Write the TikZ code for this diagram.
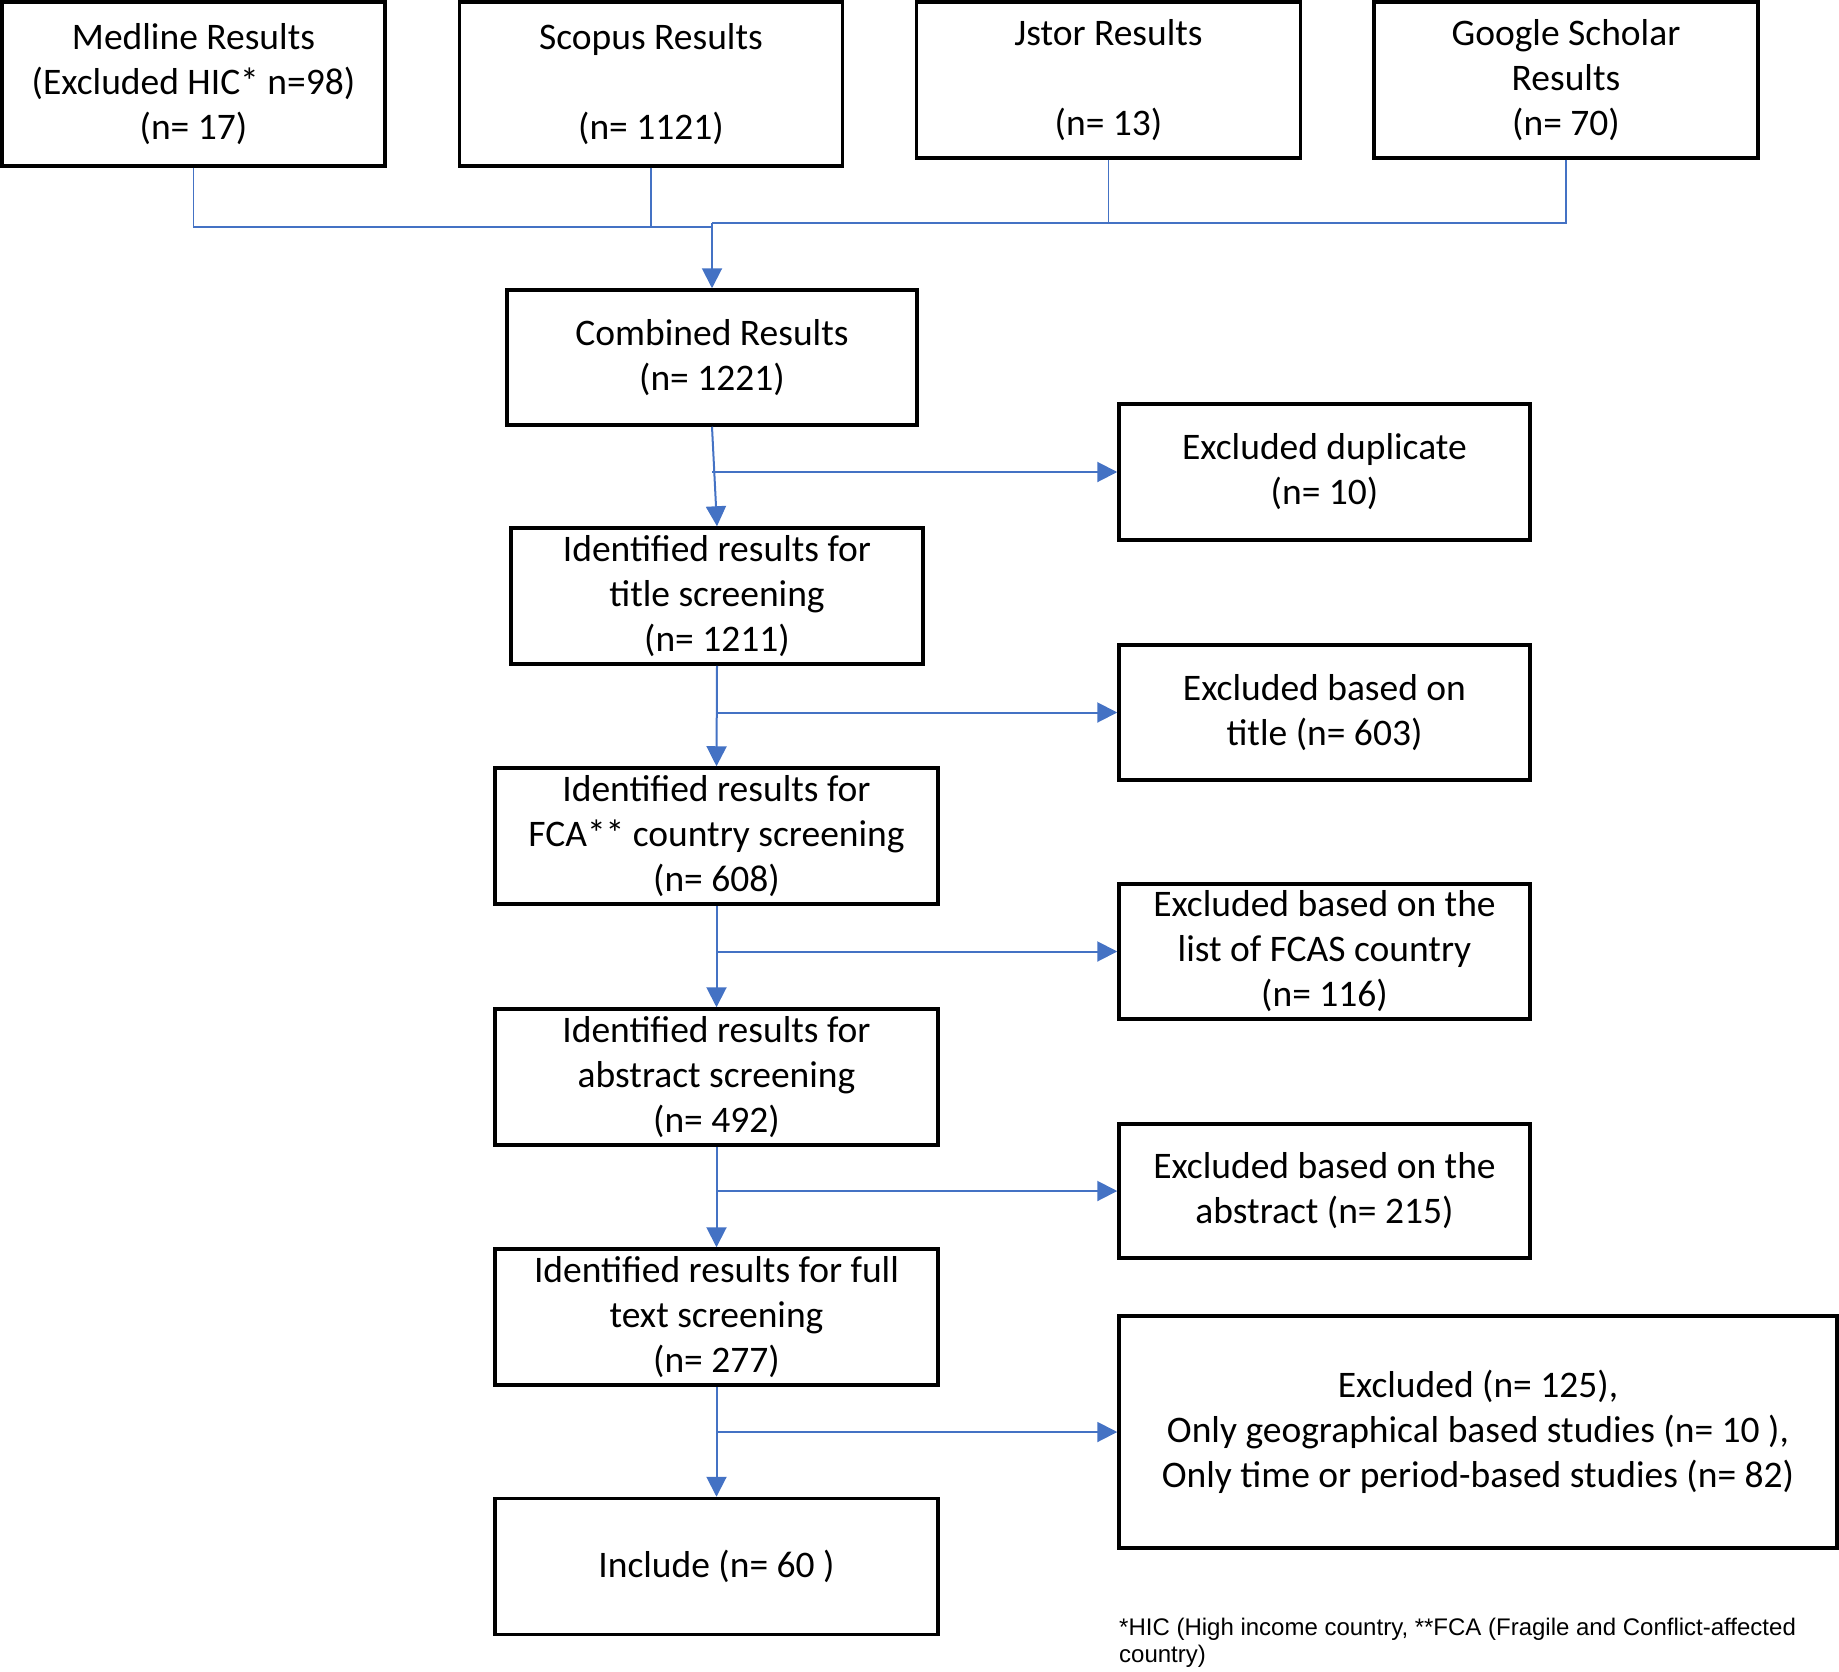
\documentclass[tikz,border=0pt]{standalone}
\usepackage{fontspec}
\setmainfont{Carlito}
\newfontfamily\notefont{Liberation Sans}
\usetikzlibrary{arrows.meta}
\definecolor{flowblue}{HTML}{4472C4}
\begin{document}
\begin{tikzpicture}[x=1pt,y=-1pt,
  box/.style={draw=black,line width=3.5pt,align=center,inner sep=0pt,
    font=\fontsize{37.5}{45}\selectfont},
  link/.style={draw=flowblue,line width=1.5pt},
  arr/.style={draw=flowblue,line width=2pt,-{Triangle[length=20pt,width=20pt]}}]
\useasboundingbox (0,0) rectangle (1839,1672);
% top sources
\node[box,minimum width=383pt,minimum height=164pt] (med) at (193.5,84) {Medline Results\\(Excluded HIC* n=98)\\(n= 17)};
\node[box,minimum width=383pt,minimum height=164pt] (sco) at (651,84) {Scopus Results\\\mbox{}\\(n= 1121)};
\node[box,minimum width=384pt,minimum height=156pt] (jst) at (1108.5,80) {Jstor Results\\\mbox{}\\(n= 13)};
\node[box,minimum width=384pt,minimum height=156pt] (goo) at (1566,80) {Google Scholar\\Results\\(n= 70)};
% main column
\node[box,minimum width=410pt,minimum height=135pt] (comb) at (712,357.5) {Combined Results\\(n= 1221)};
\node[box,minimum width=412pt,minimum height=136pt] (title) at (717,596) {Identified results for\\title screening\\(n= 1211)};
\node[box,minimum width=443pt,minimum height=136pt] (fca) at (716.5,836) {Identified results for\\FCA** country screening\\(n= 608)};
\node[box,minimum width=443pt,minimum height=136pt] (abs) at (716.5,1077) {Identified results for\\abstract screening\\(n= 492)};
\node[box,minimum width=443pt,minimum height=136pt] (full) at (716.5,1317) {Identified results for full\\text screening\\(n= 277)};
\node[box,minimum width=443pt,minimum height=136pt] (inc) at (716.5,1566.5) {Include (n= 60 )};
% exclusions
\node[box,minimum width=411pt,minimum height=136pt] (exdup) at (1324.5,472) {Excluded duplicate\\(n= 10)};
\node[box,minimum width=411pt,minimum height=135pt] (extit) at (1324.5,712.5) {Excluded based on\\title (n= 603)};
\node[box,minimum width=411pt,minimum height=135pt] (exfca) at (1324.5,951.5) {Excluded based on the\\list of FCAS country\\(n= 116)};
\node[box,minimum width=411pt,minimum height=134pt] (exabs) at (1324.5,1191) {Excluded based on the\\abstract (n= 215)};
\node[box,minimum width=718pt,minimum height=232pt] (exfull) at (1478,1432) {Excluded (n= 125),\\Only geographical based studies (n= 10 ),\\Only time or period-based studies (n= 82)};
% footnote
\node[anchor=north west,align=left,inner sep=0pt,font=\notefont\fontsize{24}{27}\selectfont] (note) at (1119,1618) {*HIC (High income country, **FCA (Fragile and Conflict-affected\\country)};
% top connectors
\coordinate (jl) at (712,227);
\coordinate (jr) at (712,223);
\draw[link] (med.south) |- (jl);
\draw[link] (sco.south) -- (sco.south |- jl);
\draw[link] (goo.south) |- (jr);
\draw[link] (jst.south) -- (jst.south |- jr);
\draw[arr] (jr) -- (comb.north);
% main flow
\draw[arr] (comb.south) -- (title.north);
\draw[arr] (comb.south |- exdup.west) -- (exdup.west);
\draw[arr] (title.south) -- (fca.north);
\draw[arr] (title.south |- extit.west) -- (extit.west);
\draw[arr] (fca.south) -- (abs.north);
\draw[arr] (fca.south |- exfca.west) -- (exfca.west);
\draw[arr] (abs.south) -- (full.north);
\draw[arr] (abs.south |- exabs.west) -- (exabs.west);
\draw[arr] (full.south) -- (inc.north);
\draw[arr] (full.south |- exfull.west) -- (exfull.west);
\end{tikzpicture}
\end{document}
